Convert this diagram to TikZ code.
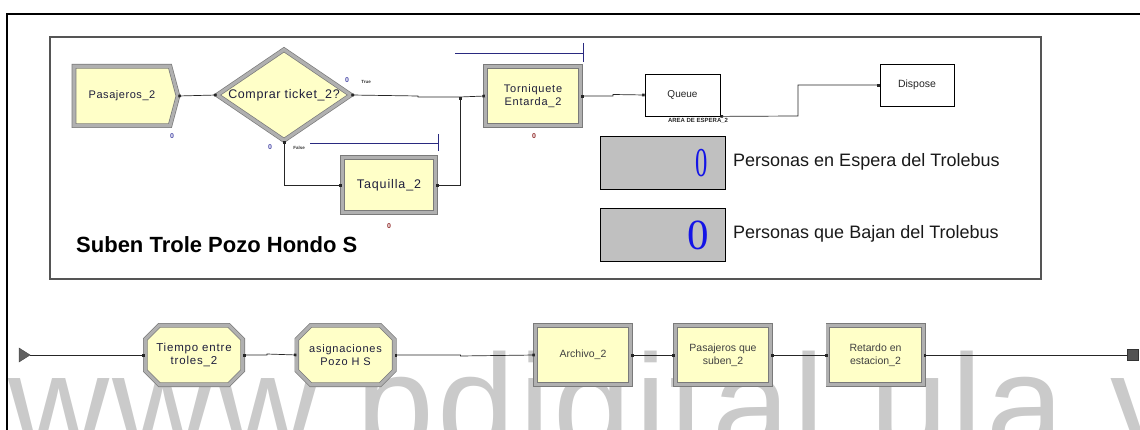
\documentclass[tikz,border=0pt]{standalone}
\usepackage{fontspec}
\setmainfont{Liberation Sans}
\newfontfamily\arena[LetterSpace=5]{Liberation Sans}
\newfontfamily\arenaw[LetterSpace=7]{Liberation Sans}
\newfontfamily\wmfont[LetterSpace=2.5]{Liberation Sans}
\newfontfamily\serifzero{Liberation Serif}
\usetikzlibrary{shapes.geometric,shapes.misc,shapes.symbols,arrows.meta,calc}
\definecolor{boxyellow}{HTML}{FFFFC8}
\definecolor{framegray}{HTML}{B0B0B0}
\definecolor{framedark}{HTML}{7A7A7A}
\definecolor{textnavy}{HTML}{1E1E3C}
\definecolor{resblue}{HTML}{2A2A80}
\definecolor{cntblue}{HTML}{4A4AA8}
\definecolor{cntred}{HTML}{902828}
\definecolor{dispgray}{HTML}{C0C0C0}
\definecolor{zeroblue}{HTML}{1414E6}
\definecolor{wmgray}{HTML}{CACACA}
\definecolor{innerframe}{HTML}{555555}
\tikzset{
  modframe/.style={draw=framedark, line width=0.7pt, double=framegray,
    double distance=3.2pt, fill=boxyellow, inner sep=0pt, text=textnavy, align=center},
  procbox/.style={modframe, rectangle, minimum width=95.4pt, minimum height=59.4pt},
  chambox/.style={modframe, chamfered rectangle, chamfered rectangle xsep=7pt,
    chamfered rectangle ysep=7pt, minimum width=97.4pt, minimum height=59.4pt},
  plainbox/.style={draw=black, line width=0.8pt, fill=white, inner sep=0pt,
    font=\fontsize{10}{12}\selectfont, text=black!85},
  dispbox/.style={draw=black, line width=0.8pt, fill=dispgray, minimum width=125pt,
    minimum height=53pt, inner sep=0pt},
  conn/.style={draw=black!85, line width=0.7pt,
    {Square[length=2.6pt,width=2.6pt]}-{Square[length=2.6pt,width=2.6pt]}},
  resline/.style={draw=resblue, line width=0.9pt},
  cnt/.style={font=\fontsize{7}{7}\selectfont\bfseries, inner sep=0pt},
  tiny/.style={font=\fontsize{4.5}{5}\selectfont\bfseries, inner sep=0pt, text=black!80},
  bigtext/.style={font=\fontsize{18}{20}\selectfont, anchor=west, inner sep=0pt, text=black!90},
}
\begin{document}
\begin{tikzpicture}[x=1pt,y=-1pt]
\useasboundingbox (0,0) rectangle (1140,430);
% watermark
\begin{scope}
\clip (0,0) rectangle (1140,430);
\node[anchor=base west, inner sep=0pt, text=wmgray, font=\wmfont\fontsize{140}{140}\selectfont] (wm) at (8,452) {www.bdigital.ula.ve};
\end{scope}
% outer black frame (left and top)
\draw[line width=2.6pt, black] (7,430) -- (7,14) -- (1140,14);
% inner frame
\draw[line width=1.4pt, innerframe] (50,37) rectangle (1041,279);

% ---- top sub-model ----
\node[modframe, signal, signal to=east, signal pointer angle=150,
  minimum width=104pt, minimum height=59.4pt,
  font=\arena\fontsize{11}{12}\selectfont] (pas) at (122,96) {Pasajeros\_2};
\node[modframe, diamond, shape aspect=1.47, minimum width=134pt, minimum height=91pt,
  font=\arena\fontsize{12.5}{13}\selectfont] (dia) at (284,95) {Comprar ticket\_2?};
\node[procbox, font=\arenaw\fontsize{11}{12.5}\selectfont] (torn) at (533,96) {Torniquete\\Entarda\_2};
\node[procbox, minimum width=93.4pt, minimum height=55.4pt,
  font=\arenaw\fontsize{12.5}{13}\selectfont] (taq) at (389,185) {Taquilla\_2};
\node[plainbox, minimum width=75pt, minimum height=42pt] (queue) at (682.5,95) {Queue};
\node[plainbox, minimum width=74pt, minimum height=42pt,
  font=\fontsize{10.5}{12}\selectfont] (disp) at (917,85) {Dispose};

% resource / queue lines
\coordinate (rt1) at (455,53);
\coordinate (rt2) at (583,53);
\draw[resline] (rt1) -- (rt2);
\draw[resline] ($(rt2)+(0,-10)$) -- ($(rt2)+(0,9)$);
\coordinate (rq1) at (310,143);
\coordinate (rq2) at (438,143);
\draw[resline] (rq1) -- (rq2);
\draw[resline] ($(rq2)+(0,-9)$) -- ($(rq2)+(0,8)$);

% counters and small labels
\node[cnt, text=cntblue] (c1) at (172,136) {0};
\node[cnt, text=cntblue] (c2) at (347,80) {0};
\node[cnt, text=cntblue] (c3) at (270,147) {0};
\node[cnt, text=cntred] (c4) at (534,136) {0};
\node[cnt, text=cntred] (c5) at (389,226) {0};
\node[tiny] (ltrue) at (366,82) {True};
\node[tiny] (lfalse) at (299,148) {False};
\node[inner sep=0pt, font=\fontsize{6}{6}\selectfont\bfseries, text=black!85] (qlab) at (698,121) {AREA DE ESPERA\_2};

% connectors top
\draw[conn] (pas.east) -- (dia.west);
\coordinate (j1) at (418,96);
\coordinate (jt) at (460,97);
\draw[conn] (dia.east) -- (j1) -- ++(0,1) -- (jt) -- (torn.west);
\draw[conn] (taq.east) -| (jt);
\draw[conn] (dia.south) |- (taq.west);
\coordinate (j2) at (613,96);
\draw[conn] (torn.east) -- (j2) -- ++(0,-1.5) -- (queue.west);
\coordinate (j3) at (798,116);
\draw[conn] (queue.south east) -- (j3) |- (disp.west);

% display boxes
\node[dispbox] (d1) at (662.5,162.5) {};
\node[dispbox] (d2) at (662.5,234.5) {};
\node[inner sep=0pt, text=zeroblue, font=\serifzero\fontsize{41}{41}\selectfont] (z1) at (702,163) {\scalebox{0.6}[1]{0}};
\node[inner sep=0pt, text=zeroblue, font=\serifzero\fontsize{43}{43}\selectfont] (z2) at (698,235) {0};
\node[bigtext] (t1) at (733,162) {Personas en Espera del Trolebus};
\node[bigtext] (t2) at (733,234) {Personas que Bajan del Trolebus};
\node[anchor=west, inner sep=0pt, font=\fontsize{22}{24}\selectfont\bfseries, text=black] (title) at (76,245) {Suben Trole Pozo Hondo S};

% ---- bottom row ----
\coordinate (srctip) at (30,355);
\fill[gray!75!black, draw=black!70, line width=0.5pt] (19,348) -- (srctip) -- (19,362) -- cycle;
\node[chambox, font=\arenaw\fontsize{11.5}{13.5}\selectfont] (tiempo) at (194,355) {Tiempo entre\\troles\_2};
\node[chambox, font=\arenaw\fontsize{11}{13.5}\selectfont] (asig) at (345.5,355) {asignaciones\\Pozo H S};
\node[procbox, font=\fontsize{10.5}{13.5}\selectfont, text=black!75] (arch) at (583,355) {Archivo\_2};
\node[procbox, font=\fontsize{10.5}{13.5}\selectfont, text=black!75] (pqs) at (723,355) {Pasajeros que\\suben\_2};
\node[procbox, font=\fontsize{10.5}{13.5}\selectfont, text=black!75] (ret) at (875.5,355) {Retardo en\\estacion\_2};
\node[draw=black!80, fill=gray!65!black, line width=0.6pt, minimum size=11pt, inner sep=0pt] (sink) at (1132.5,355) {};

\draw[conn, -{Square[length=2.6pt,width=2.6pt]}] (srctip) -- (tiempo.west);
\draw[conn] (tiempo.east) -- ++(24,0) -- ++(0,-1) -- (asig.west);
\draw[conn] (asig.east) -- ++(66,0) -- ++(0,1) -- (arch.west);
\draw[conn] (arch.east) -- (pqs.west);
\draw[conn] (pqs.east) -- (ret.west);
\draw[conn, {Square[length=2.6pt,width=2.6pt]}-] (ret.east) -- (sink.west);
\end{tikzpicture}
\end{document}
